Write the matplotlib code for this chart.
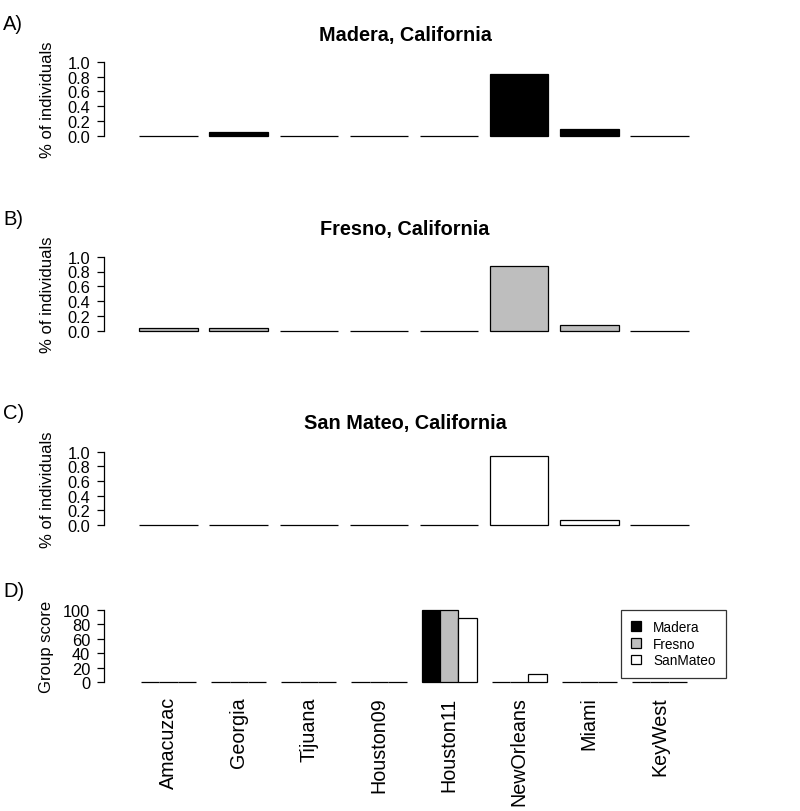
import matplotlib
matplotlib.use("Agg")
import matplotlib.pyplot as plt
from matplotlib.patches import Patch
import numpy as np

# DATA
cities = ['Amacuzac', 'Georgia', 'Tijuana', 'Houston09', 'Houston11', 'NewOrleans', 'Miami', 'KeyWest']
madera = [0, 0.06, 0, 0, 0, 0.84, 0.10, 0]
fresno = [0.03, 0.04, 0, 0, 0, 0.88, 0.08, 0]
sanmateo = [0, 0, 0, 0, 0, 0.945, 0.068, 0]
score_madera = [0, 0, 0, 0, 100, 0, 0, 0]
score_fresno = [0, 0, 0, 0, 100, 0, 0, 0]
score_sanmateo = [0, 0, 0, 0, 89, 11, 0, 0]

groups = ['Madera', 'Fresno', 'SanMateo']
colors = ['black', '#bebebe', 'white']
titles = ['Madera, California', 'Fresno, California', 'San Mateo, California']
letters = ['A)', 'B)', 'C)', 'D)']

plt.rcParams['font.family'] = ['Liberation Sans', 'DejaVu Sans']

W, H = 800, 812
fig = plt.figure(figsize=(W / 100, H / 100), dpi=100)

x = np.arange(len(cities))
x_left, x_right = 104, 706
xlim = (-64.5 / 70, 7 + 46.5 / 70)


def make_axes(top_val_px, zero_px, lo, hi, pad_frac=0.04):
    # axes placed so that value `hi` sits at top_val_px and 0 at zero_px
    per = (zero_px - top_val_px) / hi
    top = top_val_px - pad_frac * hi * per
    bottom = zero_px + pad_frac * hi * per
    ax = fig.add_axes([x_left / W, 1 - bottom / H, (x_right - x_left) / W, (bottom - top) / H])
    ax.set_xlim(*xlim)
    ax.set_ylim(lo - pad_frac * hi, hi + pad_frac * hi)
    for s in ['top', 'right', 'bottom']:
        ax.spines[s].set_visible(False)
    ax.spines['left'].set_bounds(lo, hi)
    ax.spines['left'].set_linewidth(0.9)
    ax.tick_params(axis='y', length=5, width=0.9, pad=5, labelsize=11.8)
    ax.patch.set_alpha(0)
    return ax


# PANELS A-C
panel_px = [(62.7, 137.0), (257.7, 331.7), (452.7, 526.0)]
series = [madera, fresno, sanmateo]
for i in range(3):
    ax = make_axes(panel_px[i][0], panel_px[i][1], 0, 1.0)
    ax.bar(x, series[i], width=0.836, color=colors[i], edgecolor='black', linewidth=0.9)
    ax.set_yticks([0, 0.2, 0.4, 0.6, 0.8, 1.0])
    ax.set_yticklabels(['0.0', '0.2', '0.4', '0.6', '0.8', '1.0'])
    ax.set_xticks([])
    mid = (panel_px[i][0] + panel_px[i][1]) / 2
    fig.text(47 / W, 1 - mid / H, '% of individuals', rotation=90, ha='center', va='center', fontsize=12)
    fig.text((x_left + x_right) / 2 / W, 1 - (35 + 194.5 * i) / H, titles[i],
             ha='center', va='center', fontsize=14.3, fontweight='bold')

# PANEL D
axd = make_axes(610.7, 683.3, 0, 100)
w = 0.262
scores = [score_madera, score_fresno, score_sanmateo]
for j in range(3):
    axd.bar(x + (j - 1) * w, scores[j], width=w, color=colors[j], edgecolor='black', linewidth=0.9)
axd.set_yticks([0, 20, 40, 60, 80, 100])
axd.set_xticks(x)
axd.set_xticklabels(cities, rotation=90, fontsize=14.2, va='top', ha='center')
axd.tick_params(axis='x', length=0, pad=8)
fig.text(47 / W, 1 - 647 / H, 'Group score', rotation=90, ha='center', va='center', fontsize=12)

handles = [Patch(facecolor=c, edgecolor='black', linewidth=0.9) for c in colors]
leg = fig.legend(handles, groups, loc='upper left', bbox_to_anchor=(621 / W, 1 - 610.7 / H),
                 fontsize=9.8, frameon=True, fancybox=False, edgecolor='black',
                 handlelength=0.7, handleheight=0.7, handletextpad=0.9,
                 labelspacing=0.2, borderpad=0.75, borderaxespad=0)
leg.get_frame().set_linewidth(0.9)

# PANEL LETTERS
for i, (lab, yp) in enumerate(zip(letters, [25, 219.5, 414, 592])):
    fig.text(3 / W, 1 - yp / H, lab, ha='left', va='center', fontsize=14.5)

fig.savefig('out.png', dpi=100)
